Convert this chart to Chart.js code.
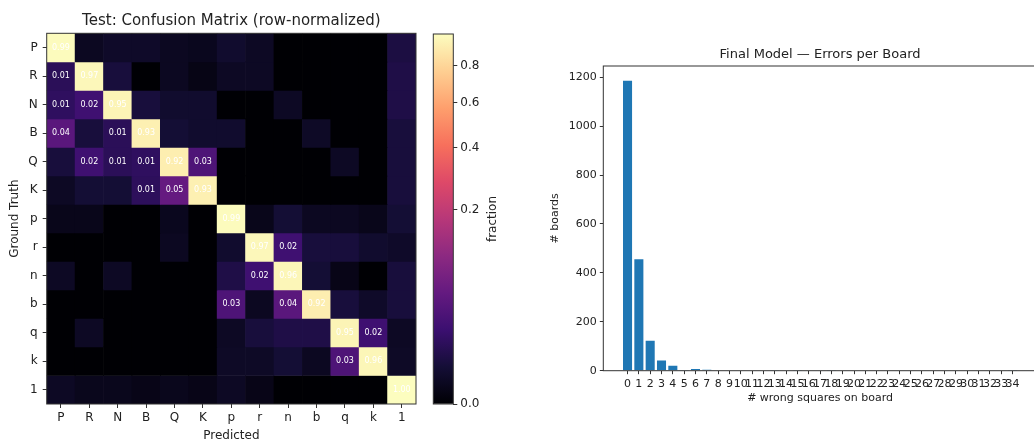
<!DOCTYPE html>
<html>
<head>
<meta charset="utf-8">
<script src="https://cdn.jsdelivr.net/npm/chart.js@4.4.1/dist/chart.umd.min.js"></script>
<style>
  html, body { margin: 0; padding: 0; background: #fff; }
  #wrap { position: relative; width: 1034px; height: 440px; overflow: hidden; }
  canvas { position: absolute; top: 0; }
  #cm { left: 0; }
  #cbar { left: 420px; }
  #errs { left: 520px; }
</style>
</head>
<body>
<div id="wrap">
  <canvas id="cm" width="420" height="450"></canvas>
  <canvas id="cbar" width="100" height="440"></canvas>
  <canvas id="errs" width="520" height="440"></canvas>
</div>
<script>
// confusion matrix (rows = ground truth, cols = predicted), row-normalized
const pieceLabels = ['P', 'R', 'N', 'B', 'Q', 'K', 'p', 'r', 'n', 'b', 'q', 'k', '1'];
const cmValues = [
  [0.99, 0.0008, 0.0015, 0.0015, 0.0008, 0.0006, 0.002, 0.001, 0, 0, 0, 0, 0.005],
  [0.01, 0.97, 0.004, 0, 0.0008, 0.0002, 0.001, 0.001, 0, 0, 0, 0, 0.006],
  [0.012, 0.02, 0.95, 0.004, 0.002, 0.002, 0, 0, 0.001, 0, 0, 0, 0.006],
  [0.04, 0.004, 0.01, 0.93, 0.003, 0.002, 0.002, 0, 0, 0.0012, 0, 0, 0.004],
  [0.004, 0.02, 0.01, 0.012, 0.92, 0.03, 0, 0, 0, 0, 0.001, 0, 0.004],
  [0.001, 0.003, 0.003, 0.011, 0.05, 0.93, 0, 0, 0, 0, 0, 0, 0.004],
  [0.0004, 0.0004, 0, 0, 0.0006, 0, 0.99, 0.0004, 0.003, 0.0008, 0.0008, 0.0004, 0.003],
  [0, 0, 0, 0, 0.0008, 0, 0.002, 0.97, 0.02, 0.004, 0.004, 0.002, 0.0015],
  [0.001, 0, 0.001, 0, 0, 0, 0.006, 0.02, 0.96, 0.003, 0.0003, 0, 0.004],
  [0, 0, 0, 0, 0, 0, 0.03, 0.0008, 0.04, 0.92, 0.004, 0.0015, 0.004],
  [0, 0.001, 0, 0, 0, 0, 0.001, 0.004, 0.006, 0.006, 0.95, 0.02, 0.001],
  [0, 0, 0, 0, 0, 0, 0.0012, 0.0012, 0.003, 0.0008, 0.03, 0.96, 0.0012],
  [0.001, 0.0005, 0.0005, 0.0003, 0.0005, 0.0003, 0.001, 0.0003, 0, 0, 0, 0, 1.0]
];
const cbarTicks = [0.0, 0.2, 0.4, 0.6, 0.8];
const gamma = 0.4; // power norm of the colour scale

// errors per board histogram
const errBins = [0, 1, 2, 3, 4, 5, 6, 7, 8, 9, 10, 11, 12, 13, 14, 15, 16, 17, 18, 19, 20,
  21, 22, 23, 24, 25, 26, 27, 28, 29, 30, 31, 32, 33, 34];
const errCounts = [1186, 456, 122, 42, 20, 3, 7, 4, 0, 0, 0, 0, 0, 3, 0, 3, 0, 0, 3, 0, 0,
  0, 0, 0, 0, 0, 0, 0, 2, 0, 0, 0, 0, 0, 3];
const errYTicks = [0, 200, 400, 600, 800, 1000, 1200];

Chart.defaults.font.family = '"DejaVu Sans", sans-serif';
Chart.defaults.color = '#222';

const MAGMA = ['#000004', '#140e36', '#3b0f70', '#641a80', '#8c2981', '#b73779',
  '#de4968', '#f7705c', '#fe9f6d', '#fecf92', '#fcfdbf'];

function hexRgb(h) {
  return [1, 3, 5].map(k => parseInt(h.slice(k, k + 2), 16));
}
function magma(t) {
  t = Math.min(1, Math.max(0, t));
  const p = t * 10;
  const i = Math.min(9, Math.floor(p));
  const f = p - i;
  const a = hexRgb(MAGMA[i]), b = hexRgb(MAGMA[i + 1]);
  const c = a.map((v, k) => Math.round(v + (b[k] - v) * f));
  return `rgb(${c[0]},${c[1]},${c[2]})`;
}
const norm = v => Math.pow(Math.max(v, 0), gamma);

// spines round the plot area
const framePlugin = {
  id: 'frame',
  afterDatasetsDraw(chart) {
    const { ctx, chartArea: a } = chart;
    ctx.save();
    ctx.strokeStyle = '#333';
    ctx.lineWidth = 1;
    ctx.strokeRect(a.left, a.top, a.right - a.left, a.bottom - a.top);
    ctx.restore();
  }
};

// value text in cells >= 0.01
const cellLabels = {
  id: 'cellLabels',
  afterDatasetsDraw(chart) {
    const { ctx, scales: { x, y } } = chart;
    ctx.save();
    ctx.font = '8px "DejaVu Sans"';
    ctx.fillStyle = '#fff';
    ctx.textAlign = 'center';
    ctx.textBaseline = 'middle';
    cmValues.forEach((row, i) => row.forEach((v, j) => {
      if (v >= 0.01) ctx.fillText(v.toFixed(2), x.getPixelForValue(j), y.getPixelForValue(i));
    }));
    ctx.restore();
  }
};

new Chart(document.getElementById('cm'), {
  type: 'bar',
  data: {
    labels: pieceLabels,
    datasets: cmValues.map((row, i) => ({
      data: row.map(() => [i - 0.5, i + 0.5]),
      backgroundColor: row.map(v => magma(norm(v))),
      borderWidth: 0,
      grouped: false,
      barPercentage: 1,
      categoryPercentage: 1
    }))
  },
  options: {
    responsive: false,
    animation: false,
    layout: { padding: { left: 0, right: 4, top: 0, bottom: 0 } },
    plugins: {
      legend: { display: false },
      tooltip: { enabled: false },
      title: {
        display: true, fullSize: false,
        text: 'Test: Confusion Matrix (row-normalized)',
        font: { size: 15, weight: 'normal' },
        color: '#222',
        padding: { top: 12, bottom: 3.3 }
      }
    },
    scales: {
      x: {
        type: 'category',
        grid: { offset: false, drawOnChartArea: false, tickLength: 4, color: '#333' },
        border: { display: false },
        ticks: { font: { size: 12 }, padding: 3, maxRotation: 0, autoSkip: false },
        title: { display: true, text: 'Predicted', font: { size: 12 }, padding: { top: 0, bottom: 7 } },
        afterFit(s) { s.height = 46; }
      },
      y: {
        type: 'linear', min: -0.5, max: 12.5, reverse: true,
        afterBuildTicks(s) { s.ticks = pieceLabels.map((_, i) => ({ value: i })); },
        ticks: { callback: v => pieceLabels[v], font: { size: 12 }, padding: 5, autoSkip: false },
        grid: { drawOnChartArea: false, tickLength: 4, color: '#333' },
        border: { display: false },
        title: { display: true, text: 'Ground Truth', font: { size: 12 }, padding: { top: 8, bottom: 0 } },
        afterFit(s) { s.width = 46.7; }
      }
    }
  },
  plugins: [cellLabels, framePlugin]
});

// colorbar
const cbarLabel = {
  id: 'cbarLabel',
  afterDraw(chart) {
    const { ctx, chartArea: a } = chart;
    ctx.save();
    ctx.translate(73, (a.top + a.bottom) / 2);
    ctx.rotate(-Math.PI / 2);
    ctx.font = '12px "DejaVu Sans"';
    ctx.fillStyle = '#222';
    ctx.textAlign = 'center';
    ctx.textBaseline = 'middle';
    ctx.fillText('fraction', 0, 0);
    ctx.restore();
  }
};

new Chart(document.getElementById('cbar'), {
  type: 'bar',
  data: {
    labels: ['fraction'],
    datasets: [{
      data: [[0, 1]],
      backgroundColor: c => {
        const a = c.chart.chartArea;
        if (!a) return MAGMA[0];
        const g = c.chart.ctx.createLinearGradient(0, a.bottom, 0, a.top);
        MAGMA.forEach((h, i) => g.addColorStop(i / 10, h));
        return g;
      },
      borderWidth: 0,
      barPercentage: 1,
      categoryPercentage: 1
    }]
  },
  options: {
    responsive: false,
    animation: false,
    layout: { padding: { left: 13.3, top: 34, bottom: 36, right: 0 } },
    plugins: { legend: { display: false }, tooltip: { enabled: false } },
    scales: {
      x: { display: false },
      y: {
        position: 'right', min: 0, max: 1,
        afterBuildTicks(s) { s.ticks = cbarTicks.map(v => ({ value: norm(v) })); },
        ticks: { callback: (v, i) => cbarTicks[i].toFixed(1), font: { size: 12 }, padding: 3 },
        grid: { drawOnChartArea: false, tickLength: 4, color: '#333' },
        border: { display: false },
        afterFit(s) { s.width = 66.7; }
      }
    }
  },
  plugins: [framePlugin, cbarLabel]
});

// errors per board
new Chart(document.getElementById('errs'), {
  type: 'bar',
  data: {
    datasets: [{
      data: errBins.map((b, i) => ({ x: b, y: errCounts[i] })),
      backgroundColor: '#1f77b4',
      borderWidth: 0,
      barPercentage: 0.8,
      categoryPercentage: 1,
      inflateAmount: 0
    }]
  },
  options: {
    responsive: false,
    animation: false,
    layout: { padding: { left: 0, right: 3.2, top: 0, bottom: 0 } },
    plugins: {
      legend: { display: false },
      tooltip: { enabled: false },
      title: {
        display: true, fullSize: false,
        text: 'Final Model — Errors per Board',
        font: { size: 13, weight: 'normal' },
        color: '#222',
        padding: { top: 47.2, bottom: 3.2 }
      }
    },
    scales: {
      x: {
        type: 'linear', min: -2.14, max: 36.14, offset: false,
        afterBuildTicks(s) { s.ticks = errBins.map(v => ({ value: v })); },
        ticks: { autoSkip: false, maxRotation: 0, font: { size: 11 }, padding: 3, callback: v => String(v) },
        grid: { offset: false, drawOnChartArea: false, tickLength: 3.5, color: '#333' },
        border: { display: false },
        title: { display: true, text: '# wrong squares on board', font: { size: 11 }, padding: { top: 0, bottom: 35.1 } },
        afterFit(s) { s.height = 69.3; }
      },
      y: {
        min: 0, max: 1246,
        afterBuildTicks(s) { s.ticks = errYTicks.map(v => ({ value: v })); },
        ticks: { font: { size: 11 }, padding: 3, callback: v => String(v) },
        grid: { drawOnChartArea: false, tickLength: 3.5, color: '#333' },
        border: { display: false },
        title: { display: true, text: '# boards', font: { size: 11 }, padding: { top: 28.4, bottom: 0 } },
        afterFit(s) { s.width = 83.3; }
      }
    }
  },
  plugins: [framePlugin]
});
</script>
</body>
</html>
